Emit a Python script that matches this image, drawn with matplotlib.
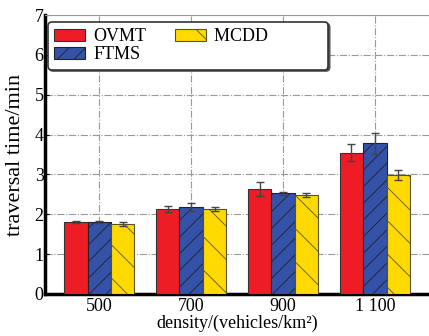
import matplotlib.pyplot as plt
import numpy as np

plt.rcParams['font.family'] = ['Liberation Serif', 'DejaVu Serif']
plt.rcParams['hatch.linewidth'] = 0.6

densities = ['500', '700', '900', '1 100']
ovmt = [1.80, 2.13, 2.63, 3.55]
ftms = [1.80, 2.18, 2.53, 3.78]
mcdd = [1.75, 2.13, 2.49, 2.98]
ovmt_err = [0.03, 0.07, 0.18, 0.21]
ftms_err = [0.03, 0.10, 0.04, 0.26]
mcdd_err = [0.05, 0.05, 0.05, 0.12]

fig = plt.figure(figsize=(4.29, 3.36), dpi=100)
ax = fig.add_axes([0.105, 0.125, 0.895, 0.83])

x = np.arange(1, len(densities) + 1)
w = 0.255
ekw = dict(ecolor='#444444', elinewidth=1.0, capsize=3, capthick=1.0)
ax.bar(x - w, ovmt, w, yerr=ovmt_err, color='#ee1c25', edgecolor='#333333',
       linewidth=0.8, label='OVMT', error_kw=ekw, zorder=3)
ax.bar(x, ftms, w, yerr=ftms_err, color='#3352a8', edgecolor='#222222',
       linewidth=0.8, hatch='//', label='FTMS', error_kw=ekw, zorder=3)
ax.bar(x + w, mcdd, w, yerr=mcdd_err, color='#ffd900', edgecolor='#555522',
       linewidth=0.8, hatch='\\', label='MCDD' + ' ' * 12, error_kw=ekw, zorder=3)

ax.set_xlim(0.41, 4.59)
ax.set_ylim(0, 7)
ax.set_xticks(x)
ax.set_xticklabels(densities)
ax.set_yticks(range(0, 8))
ax.tick_params(direction='in', labelsize=13, length=3, pad=1)
ax.tick_params(axis='x', pad=3)
ax.grid(True, color='#999999', linestyle='-.', linewidth=0.8, zorder=0)

for s in ['left', 'bottom']:
    ax.spines[s].set_linewidth(2.5)
    ax.spines[s].set_color('black')
ax.spines['top'].set_color('#999999')
ax.spines['right'].set_visible(False)

ax.set_xlabel('density/(vehicles/km²)', fontsize=13)
ax.xaxis.set_label_coords(0.5, -0.075)
ax.set_ylabel('traversal time/min', fontsize=16)
ax.yaxis.set_label_coords(-0.052, 0.5)

leg = ax.legend(ncol=2, loc='upper left', bbox_to_anchor=(0.008, 0.975),
                borderaxespad=0, fontsize=13, frameon=True, fancybox=True,
                shadow={'ox': 1, 'oy': -1, 'color': '#555555', 'alpha': 1},
                handlelength=1.7, handleheight=0.6, columnspacing=1.6,
                labelspacing=0.05, borderpad=0.35, handletextpad=0.45)
leg.get_frame().set_edgecolor('#333333')
leg.get_frame().set_linewidth(1.2)
leg.get_frame().set_alpha(1)

fig.savefig('out.png', dpi=100)
